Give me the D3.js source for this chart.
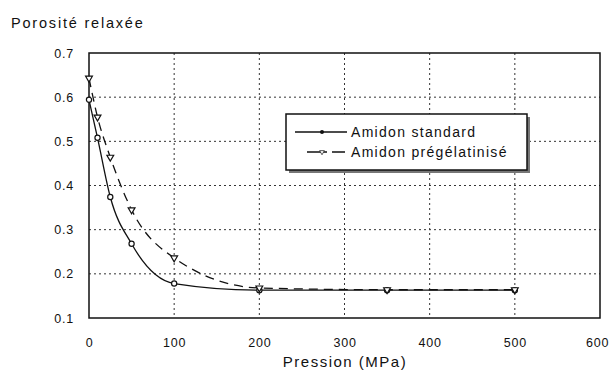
<!DOCTYPE html>
<html>
<head>
<meta charset="utf-8">
<script src="https://cdn.jsdelivr.net/npm/d3@7"></script>
<style>
  body { margin: 0; background: #fff; }
  text { font-family: "Liberation Sans", Arial, sans-serif; fill: #111; }
</style>
</head>
<body>
<div id="chart"></div>
<script>
// data
const pressure = [0, 10, 25, 50, 100, 200, 350, 500];
const standard = [0.594, 0.508, 0.374, 0.268, 0.178, 0.163, 0.163, 0.163];
const pregel = [0.643, 0.555, 0.464, 0.345, 0.236, 0.168, 0.164, 0.164];
const xTicks = [0, 100, 200, 300, 400, 500, 600];
const yTicks = [0.1, 0.2, 0.3, 0.4, 0.5, 0.6, 0.7];
const seriesNames = ["Amidon standard", "Amidon prégélatinisé"];

const svgWidth = 611;
const svgHeight = 376;
const margin = { top: 53, right: 11, bottom: 58, left: 89 };
const width = svgWidth - margin.left - margin.right;
const height = svgHeight - margin.top - margin.bottom;

const svg = d3.select("#chart")
    .append("svg")
    .attr("width", svgWidth)
    .attr("height", svgHeight);

const g = svg.append("g")
    .attr("transform", `translate(${margin.left},${margin.top})`);

const x = d3.scaleLinear().domain([0, 600]).range([0, width]);
const y = d3.scaleLinear().domain([0.1, 0.7]).range([height, 0]);

// grid
g.append("g")
    .selectAll("line")
    .data(xTicks.slice(1, -1))
    .enter()
    .append("line")
    .attr("x1", d => x(d)).attr("x2", d => x(d))
    .attr("y1", 0).attr("y2", height)
    .attr("stroke", "#333")
    .attr("stroke-width", 1)
    .attr("stroke-dasharray", "2,3");

g.append("g")
    .selectAll("line")
    .data(yTicks.slice(1, -1))
    .enter()
    .append("line")
    .attr("x1", 0).attr("x2", width)
    .attr("y1", d => y(d)).attr("y2", d => y(d))
    .attr("stroke", "#333")
    .attr("stroke-width", 1)
    .attr("stroke-dasharray", "2,3");

// frame
g.append("rect")
    .attr("width", width)
    .attr("height", height)
    .attr("fill", "none")
    .attr("stroke", "#111")
    .attr("stroke-width", 1.5);

// axes
const xAxis = g.append("g")
    .attr("transform", `translate(0,${height})`)
    .call(d3.axisBottom(x).tickValues(xTicks).tickSize(0).tickPadding(20).tickFormat(d3.format("d")));
xAxis.select(".domain").remove();

const yAxis = g.append("g")
    .call(d3.axisLeft(y).tickValues(yTicks).tickSize(0).tickPadding(15).tickFormat(d3.format(".1f")));
yAxis.select(".domain").remove();

svg.selectAll(".tick text")
    .style("font-family", '"Liberation Sans", Arial, sans-serif')
    .style("font-size", "12.5px")
    .style("letter-spacing", "0.8px")
    .attr("fill", "#111");

// keep the last x label inside the window
xAxis.selectAll(".tick text")
    .filter(d => d === 600)
    .attr("dx", "-3");

// curves
const std = pressure.map((p, i) => ({ p: p, v: standard[i] }));
const pre = pressure.map((p, i) => ({ p: p, v: pregel[i] }));

const line = d3.line()
    .x(d => x(d.p))
    .y(d => y(d.v))
    .curve(d3.curveMonotoneX);

g.append("path")
    .datum(std)
    .attr("d", line)
    .attr("fill", "none")
    .attr("stroke", "#111")
    .attr("stroke-width", 1.3);

g.append("path")
    .datum(pre)
    .attr("d", line)
    .attr("fill", "none")
    .attr("stroke", "#111")
    .attr("stroke-width", 1.3)
    .attr("stroke-dasharray", "9,6");

// markers
g.append("g")
    .selectAll("circle")
    .data(std)
    .enter()
    .append("circle")
    .attr("cx", d => x(d.p))
    .attr("cy", d => y(d.v))
    .attr("r", 2.6)
    .attr("fill", "#fff")
    .attr("stroke", "#111")
    .attr("stroke-width", 1.2);

const tri = d3.symbol().type(d3.symbolTriangle).size(20);
g.append("g")
    .selectAll("path")
    .data(pre)
    .enter()
    .append("path")
    .attr("d", tri)
    .attr("transform", d => `translate(${x(d.p)},${y(d.v)}) rotate(180)`)
    .attr("fill", "#fff")
    .attr("stroke", "#111")
    .attr("stroke-width", 1.2);

// legend
const lg = svg.append("g").attr("transform", "translate(286,114)");
lg.append("rect")
    .attr("x", 3).attr("y", 3)
    .attr("width", 241).attr("height", 56)
    .attr("fill", "#777");
lg.append("rect")
    .attr("width", 241).attr("height", 56)
    .attr("fill", "#fff")
    .attr("stroke", "#111")
    .attr("stroke-width", 1.5);

lg.append("line")
    .attr("x1", 9).attr("x2", 61).attr("y1", 18).attr("y2", 18)
    .attr("stroke", "#111").attr("stroke-width", 1.3);
lg.append("circle")
    .attr("cx", 36).attr("cy", 18).attr("r", 2)
    .attr("fill", "#111");
lg.append("line")
    .attr("x1", 21).attr("x2", 59).attr("y1", 38).attr("y2", 38)
    .attr("stroke", "#111").attr("stroke-width", 1.3)
    .attr("stroke-dasharray", "20,5,13");
lg.append("path")
    .attr("d", tri)
    .attr("transform", "translate(36,38) rotate(180) scale(0.7)")
    .attr("fill", "#fff")
    .attr("stroke", "#111");

lg.selectAll("text.lab")
    .data(seriesNames)
    .enter()
    .append("text")
    .attr("class", "lab")
    .attr("x", 65)
    .attr("y", (d, i) => 23 + i * 20)
    .style("font-size", "14px")
    .style("letter-spacing", "1.3px")
    .text(d => d);

// titles
svg.append("text")
    .attr("x", 11)
    .attr("y", 28)
    .style("font-size", "14.5px")
    .style("letter-spacing", "1.8px")
    .text("Porosité relaxée");

svg.append("text")
    .attr("x", 345)
    .attr("y", 367)
    .attr("text-anchor", "middle")
    .style("font-size", "15px")
    .style("letter-spacing", "1.5px")
    .text("Pression (MPa)");
</script>
</body>
</html>
